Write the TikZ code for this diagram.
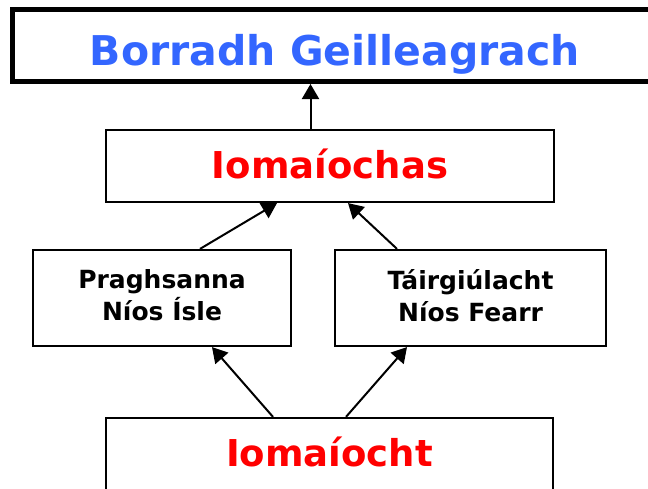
\documentclass[tikz,border=0pt]{standalone}
\usepackage{fontspec}
\setmainfont{DejaVu Sans}
\usetikzlibrary{arrows.meta}
\definecolor{growthblue}{HTML}{3366FF}
\definecolor{compred}{HTML}{FF0000}

\begin{document}
\begin{tikzpicture}[x=1pt,y=-1pt,
    box/.style={draw, line width=2.2pt, fill=white, inner sep=0pt, align=center},
    bigbox/.style={box, line width=5pt},
    arr/.style={line width=2pt, -{Triangle[width=17pt,length=15pt]}}]
\useasboundingbox (0,0) rectangle (648,488);
\clip (0,0) rectangle (648,488);
%----top box-----------------------------------
\node[bigbox, minimum width=645pt, minimum height=72pt, text height=39pt, text depth=0pt,
    text=growthblue, font=\bfseries\fontsize{41}{49}\selectfont] (growth) at (335,45.5) {Borradh Geilleagrach};
%----middle box--------------------------------
\node[box, minimum width=448pt, minimum height=72pt, text height=27pt, text depth=3pt,
    text=compred, font=\bfseries\fontsize{37}{44}\selectfont] (comp) at (330,166) {Iomaíochas};
%----the two small boxes-----------------------
\node[box, minimum width=258pt, minimum height=96pt, text depth=6pt,
    font=\bfseries\fontsize{25}{32}\selectfont] (prices) at (162,298) {Praghsanna\\Níos Ísle};
\node[box, minimum width=271pt, minimum height=96pt, text depth=6pt,
    font=\bfseries\fontsize{25}{32}\selectfont] (prod) at (470.5,298) {Táirgiúlacht\\Níos Fearr};
%----bottom box--------------------------------
\node[box, minimum width=447pt, minimum height=72pt, text height=27pt, text depth=3pt,
    text=compred, font=\bfseries\fontsize{37}{44}\selectfont] (base) at (329.5,454) {Iomaíocht};
%----arrows------------------------------------
\draw[arr] ([xshift=-19.5pt]comp.north) -- ([xshift=-24.5pt]growth.south);
\draw[arr] ([xshift=38pt]prices.north) -- ([xshift=-53pt]comp.south);
\draw[arr] ([xshift=-73.5pt]prod.north) -- ([xshift=18pt]comp.south);
\draw[arr] ([xshift=-56.5pt]base.north) -- ([xshift=50pt]prices.south);
\draw[arr] ([xshift=16.5pt]base.north) -- ([xshift=-63.5pt]prod.south);
\end{tikzpicture}
\end{document}
